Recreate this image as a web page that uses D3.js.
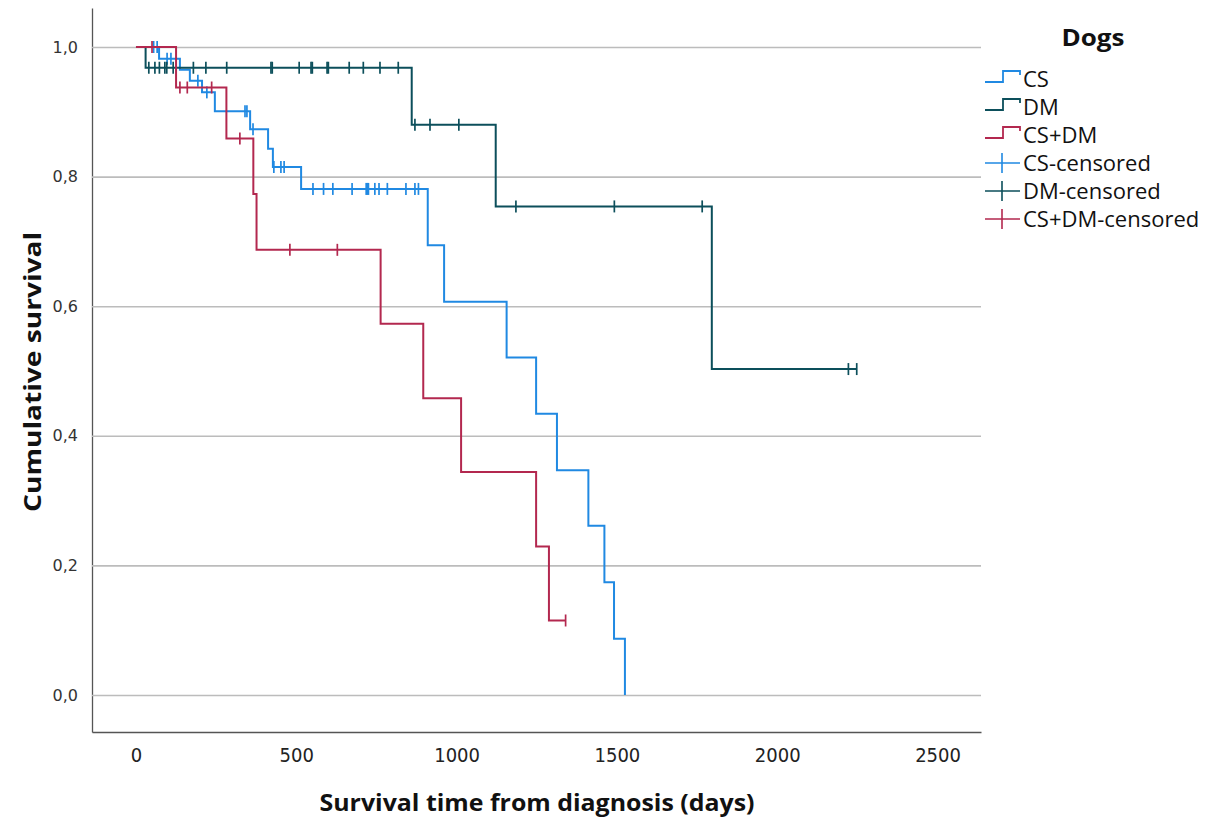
<!DOCTYPE html>
<html>
<head>
<meta charset="utf-8">
<script src="https://cdn.jsdelivr.net/npm/d3@7/dist/d3.min.js"></script>
<style>
  html, body { margin: 0; padding: 0; background: #fff; }
  svg { display: block; }
</style>
</head>
<body>
<svg id="chart" width="1210" height="819"></svg>
<script>
// ---------------- DATA ----------------
const groups = ["CS", "DM", "CS+DM"];
const legendLabels = ["CS", "DM", "CS+DM", "CS-censored", "DM-censored", "CS+DM-censored"];

const xTicks = [0, 500, 1000, 1500, 2000, 2500];
const yTicks = [0, 0.2, 0.4, 0.6, 0.8, 1.0];

// CS
const csEventDays = [72, 137, 168, 206, 246, 356, 412, 427, 515, 910, 961, 1156, 1248, 1313, 1411, 1461, 1491, 1525];
const csSurvival  = [0.982, 0.965, 0.948, 0.930, 0.901, 0.873, 0.843, 0.815, 0.781, 0.694, 0.607, 0.521, 0.434, 0.347, 0.261, 0.174, 0.087, 0.0];
const csCensored  = [55, 66, 97, 109, 193, 221, 340, 346, 365, 430, 452, 462, 552, 585, 614, 674, 718, 722, 725, 745, 758, 784, 842, 870, 881];

// DM
const dmEventDays = [30, 860, 1122, 1796];
const dmSurvival  = [0.968, 0.880, 0.754, 0.503];
const dmCensored  = [40, 59, 73, 90, 96, 116, 179, 218, 283, 421, 425, 509, 546, 550, 596, 600, 665, 709, 761, 818, 870, 917, 1007, 1185, 1492, 1766, 2222, 2248];

// CS+DM
const csdmEventDays = [125, 282, 366, 376, 763, 896, 1014, 1248, 1288];
const csdmSurvival  = [0.9375, 0.859, 0.773, 0.687, 0.573, 0.458, 0.344, 0.229, 0.115];
const csdmCensored  = [50, 137, 160, 236, 324, 480, 628, 1340];

const colors = ["#2089e2", "#0c4f5b", "#b3284f"];

// ---------------- BUILD ----------------
const series = [
  {name: groups[0], ev: csEventDays, s: csSurvival, cens: csCensored, color: colors[0]},
  {name: groups[1], ev: dmEventDays, s: dmSurvival, cens: dmCensored, color: colors[1]},
  {name: groups[2], ev: csdmEventDays, s: csdmSurvival, cens: csdmCensored, color: colors[2]}
];

const svg = d3.select("#chart");
svg.append("rect").attr("width", 1210).attr("height", 819).attr("fill", "#fff");

const x = d3.scaleLinear().domain([-137.2, 2635.6]).range([92, 981]);
const y = d3.scaleLinear().domain([-0.0571, 1.0602]).range([732, 8]);

// Y axis with gridlines
const yAxis = d3.axisLeft(y)
  .tickValues(yTicks)
  .tickSize(-(981 - 92))
  .tickSizeOuter(0)
  .tickPadding(14)
  .tickFormat(d => d3.format(".1f")(d).replace(".", ","));
const gy = svg.append("g").attr("transform", "translate(92,0)").call(yAxis);
gy.selectAll(".tick line").attr("stroke", "#bcbcbc").attr("stroke-width", 1.6);
gy.selectAll(".tick text").attr("font-family", "DejaVu Sans").attr("font-size", 16).attr("fill", "#333");
gy.select(".domain").attr("stroke", "#555").attr("stroke-width", 1.3);

// X axis
const xAxis = d3.axisBottom(x)
  .tickValues(xTicks)
  .tickSize(0)
  .tickSizeOuter(0)
  .tickPadding(16)
  .tickFormat(d3.format("d"));
const gx = svg.append("g").attr("transform", "translate(0,732)").call(xAxis);
gx.selectAll(".tick text")
  .attr("font-family", "'Liberation Sans Narrow', 'DejaVu Sans Condensed', sans-serif")
  .attr("font-size", 20).attr("fill", "#222");
gx.select(".domain").attr("stroke", "#555").attr("stroke-width", 1.3);

// Survival step lines
const line = d3.line().x(d => x(d[0])).y(d => y(d[1])).curve(d3.curveStepAfter);
function survAt(sr, t) {
  let v = 1;
  for (let i = 0; i < sr.ev.length; i++) if (sr.ev[i] <= t) v = sr.s[i];
  return v;
}
series.forEach(sr => {
  const pts = [[0, 1]];
  sr.ev.forEach((t, i) => pts.push([t, sr.s[i]]));
  const lastCens = d3.max(sr.cens);
  const lastEv = d3.max(sr.ev);
  if (lastCens > lastEv) pts.push([lastCens, sr.s[sr.s.length - 1]]);
  svg.append("path").datum(pts).attr("d", line)
    .attr("fill", "none").attr("stroke", sr.color).attr("stroke-width", 2);
  svg.append("g").selectAll("line").data(sr.cens).join("line")
    .attr("x1", d => x(d)).attr("x2", d => x(d))
    .attr("y1", d => y(survAt(sr, d)) - 6).attr("y2", d => y(survAt(sr, d)) + 6)
    .attr("stroke", sr.color).attr("stroke-width", 1.7);
});

// Axis titles
svg.append("text").attr("x", 537).attr("y", 811).attr("text-anchor", "middle")
  .attr("font-family", "Open Sans").attr("font-weight", "bold").attr("font-size", 23)
  .attr("fill", "#111").attr("textLength", 435).attr("lengthAdjust", "spacingAndGlyphs")
  .text("Survival time from diagnosis (days)");
svg.append("text").attr("transform", "translate(41,372) rotate(-90)").attr("text-anchor", "middle")
  .attr("font-family", "Open Sans").attr("font-weight", "bold").attr("font-size", 23)
  .attr("fill", "#111").attr("textLength", 280).attr("lengthAdjust", "spacingAndGlyphs")
  .text("Cumulative survival");

// Legend
const lg = svg.append("g");
lg.append("text").attr("x", 1093).attr("y", 46).attr("text-anchor", "middle")
  .attr("font-family", "Open Sans").attr("font-weight", "bold").attr("font-size", 23)
  .attr("fill", "#111").attr("textLength", 63).attr("lengthAdjust", "spacingAndGlyphs")
  .text("Dogs");
const rowY = i => 79 + i * 28;
legendLabels.forEach((lab, i) => {
  const c = colors[i % 3];
  const yy = rowY(i);
  if (i < 3) {
    lg.append("path")
      .attr("d", `M985,${yy + 3}H1003V${yy - 8}H1020V${yy - 4}`)
      .attr("fill", "none").attr("stroke", c).attr("stroke-width", 1.8);
  } else {
    lg.append("path")
      .attr("d", `M985,${yy}H1020M1002,${yy - 10}V${yy + 10}`)
      .attr("fill", "none").attr("stroke", c).attr("stroke-width", 1.6);
  }
  lg.append("text").attr("x", 1023).attr("y", yy).attr("dy", "0.36em")
    .attr("font-family", "Open Sans").attr("font-size", 22).attr("fill", "#111")
    .text(lab);
});
</script>
</body>
</html>
